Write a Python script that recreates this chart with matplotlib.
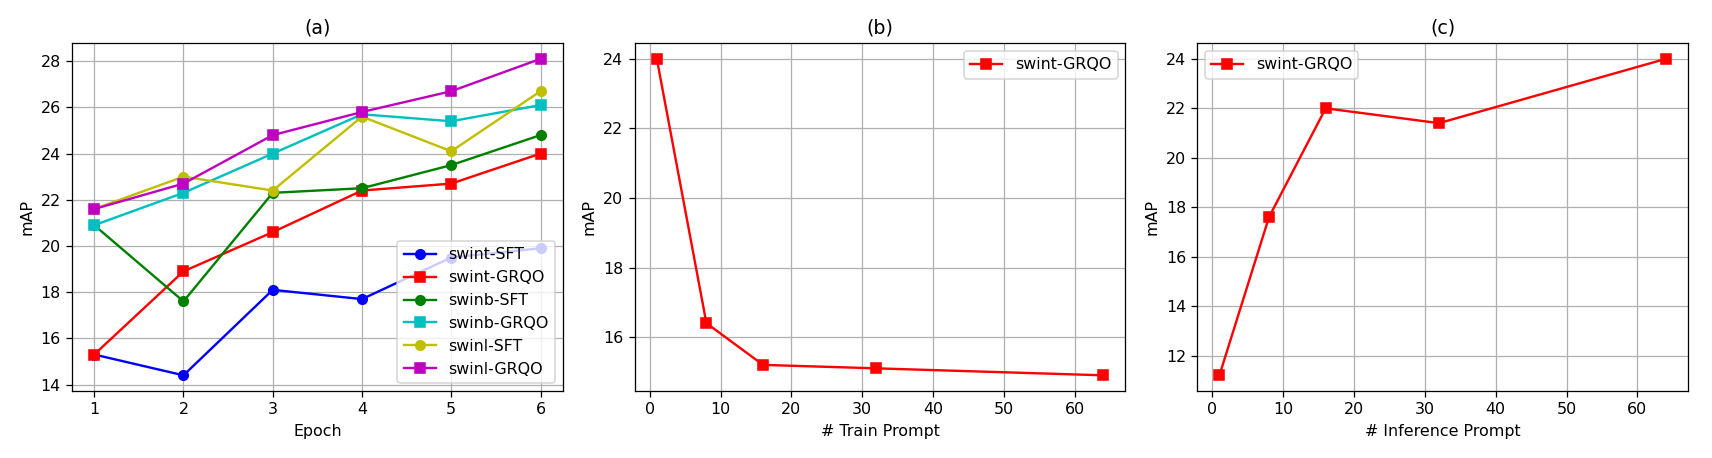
import matplotlib
matplotlib.use('Agg')
import matplotlib.pyplot as plt

epochs = [1, 2, 3, 4, 5, 6]
swint_sft = [15.3, 14.4, 18.1, 17.7, 19.5, 19.9]
swint_grqo = [15.3, 18.9, 20.6, 22.4, 22.7, 24.0]
swinb_sft = [20.9, 17.6, 22.3, 22.5, 23.5, 24.8]
swinb_grqo = [20.9, 22.3, 24.0, 25.7, 25.4, 26.1]
swinl_sft = [21.6, 23.0, 22.4, 25.6, 24.1, 26.7]
swinl_grqo = [21.6, 22.7, 24.8, 25.8, 26.7, 28.1]

prompts = [1, 8, 16, 32, 64]
train_prompt_map = [24.0, 16.4, 15.2, 15.1, 14.9]
infer_prompt_map = [11.2, 17.6, 22.0, 21.4, 24.0]

dpi = 114.13
fig, axes = plt.subplots(1, 3, figsize=(1712 / dpi, 458 / dpi), dpi=dpi)
fig.subplots_adjust(left=0.042, right=0.986, bottom=0.146, top=0.906, wspace=0.146)

ax = axes[0]
ax.plot(epochs, swint_sft, 'b-o', label='swint-SFT')
ax.plot(epochs, swint_grqo, 'r-s', label='swint-GRQO')
ax.plot(epochs, swinb_sft, 'g-o', label='swinb-SFT')
ax.plot(epochs, swinb_grqo, 'c-s', label='swinb-GRQO')
ax.plot(epochs, swinl_sft, 'y-o', label='swinl-SFT')
ax.plot(epochs, swinl_grqo, 'm-s', label='swinl-GRQO')
ax.set_title('(a)')
ax.set_xlabel('Epoch')
ax.set_ylabel('mAP')
ax.grid(True)
ax.legend(loc='lower right')

ax = axes[1]
ax.plot(prompts, train_prompt_map, 'r-s', label='swint-GRQO')
ax.set_title('(b)')
ax.set_xlabel('# Train Prompt')
ax.set_ylabel('mAP')
ax.grid(True)
ax.legend(loc='upper right')

ax = axes[2]
ax.plot(prompts, infer_prompt_map, 'r-s', label='swint-GRQO')
ax.set_title('(c)')
ax.set_xlabel('# Inference Prompt')
ax.set_ylabel('mAP')
ax.grid(True)
ax.legend(loc='upper left')

plt.savefig('out.png', dpi=dpi)
